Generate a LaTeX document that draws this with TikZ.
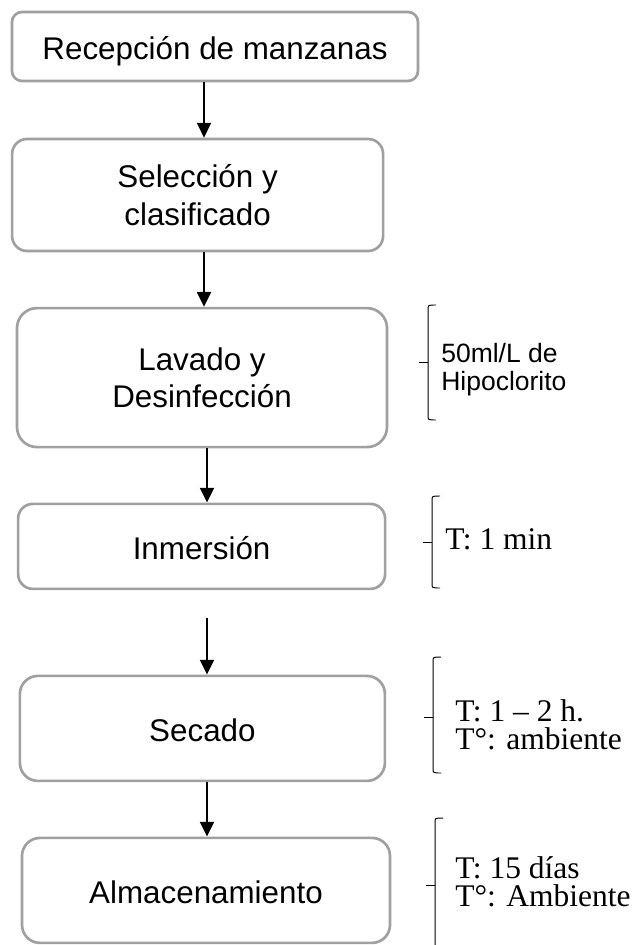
\documentclass[tikz,border=0pt]{standalone}
\usepackage{fontspec}
\setmainfont{Liberation Serif}
\setsansfont{Liberation Sans}
\usepackage{tikz}
\usetikzlibrary{arrows.meta}
\definecolor{bordegris}{RGB}{160,160,160}
\newcommand{\llave}[4]{\draw[line width=0.7pt] (#1+0.2,#2) .. controls (#1,#2) .. (#1,#2-0.12) -- (#1,#4+0.12) .. controls (#1,#4) .. (#1+0.2,#4);
\draw[line width=0.7pt] (#1,#3) -- (#1-0.22,#3);}
\tikzset{
caja/.style={draw=bordegris, line width=1.9pt, font=\sffamily\fontsize{22.3}{26.7}\selectfont, align=center, inner sep=0pt},
unalinea/.style={text height=21.2pt, text depth=2.7pt},
flecha/.style={line width=1.4pt, -{Triangle[length=0.37cm,width=0.35cm]}},
nota/.style={font=\fontsize{22.4}{19.9}\selectfont, align=left, anchor=west, inner sep=0pt},
notasans/.style={nota, font=\sffamily\fontsize{18.85}{19.9}\selectfont}
}

\begin{document}
\begin{tikzpicture}
\useasboundingbox (0,0) rectangle (15.85,-23.625);
\node[caja, unalinea, minimum width=10.15cm, minimum height=1.725cm, rounded corners=0.25cm] (recepcion) at (5.375,-1.1625) {Recepción de manzanas};
\node[caja, minimum width=9.275cm, minimum height=2.8cm, rounded corners=0.375cm] (seleccion) at (4.94,-4.875) {Selección y\\clasificado};
\node[caja, minimum width=9.25cm, minimum height=3.475cm, rounded corners=0.5cm] (lavado) at (5.05,-9.44) {Lavado y\\Desinfección};
\node[caja, unalinea, minimum width=9.175cm, minimum height=2.125cm, rounded corners=0.37cm] (inmersion) at (5.04,-13.66) {Inmersión};
\node[caja, unalinea, minimum width=9.125cm, minimum height=2.625cm, rounded corners=0.45cm] (secado) at (5.06,-18.21) {Secado};
\node[caja, unalinea, minimum width=9.2cm, minimum height=2.625cm, rounded corners=0.45cm] (almacen) at (5.15,-22.26) {Almacenamiento};
\coordinate (ejeA) at (5.1,0);
\coordinate (ejeB) at (5.175,0);
\coordinate (inicio) at (5.175,-15.45);
\draw[flecha] (recepcion.south -| ejeA) -- (seleccion.north -| ejeA);
\draw[flecha] (seleccion.south -| ejeA) -- (lavado.north -| ejeA);
\draw[flecha] (lavado.south -| ejeB) -- (inmersion.north -| ejeB);
\draw[flecha] (inicio) -- (secado.north -| inicio);
\draw[flecha] (secado.south -| ejeB) -- (almacen.north -| ejeB);
\node[notasans] (hipoclorito) at (11.025,-9.23) {50ml/L de\\Hipoclorito};
\node[nota] (tiempo) at (11.125,-13.485) {T: 1 min};
\node[nota] (secadonota) at (11.375,-18.12) {T: 1 – 2 h.\\T°: ambiente};
\node[nota] (almacennota) at (11.375,-22.04) {T: 15 días\\T°: Ambiente};
\llave{10.7}{-7.625}{-9.05}{-10.5}
\llave{10.8}{-12.4}{-13.55}{-14.7}
\llave{10.825}{-16.425}{-17.925}{-19.325}
\llave{10.875}{-20.45}{-22.125}{-23.8}
\end{tikzpicture}
\end{document}
